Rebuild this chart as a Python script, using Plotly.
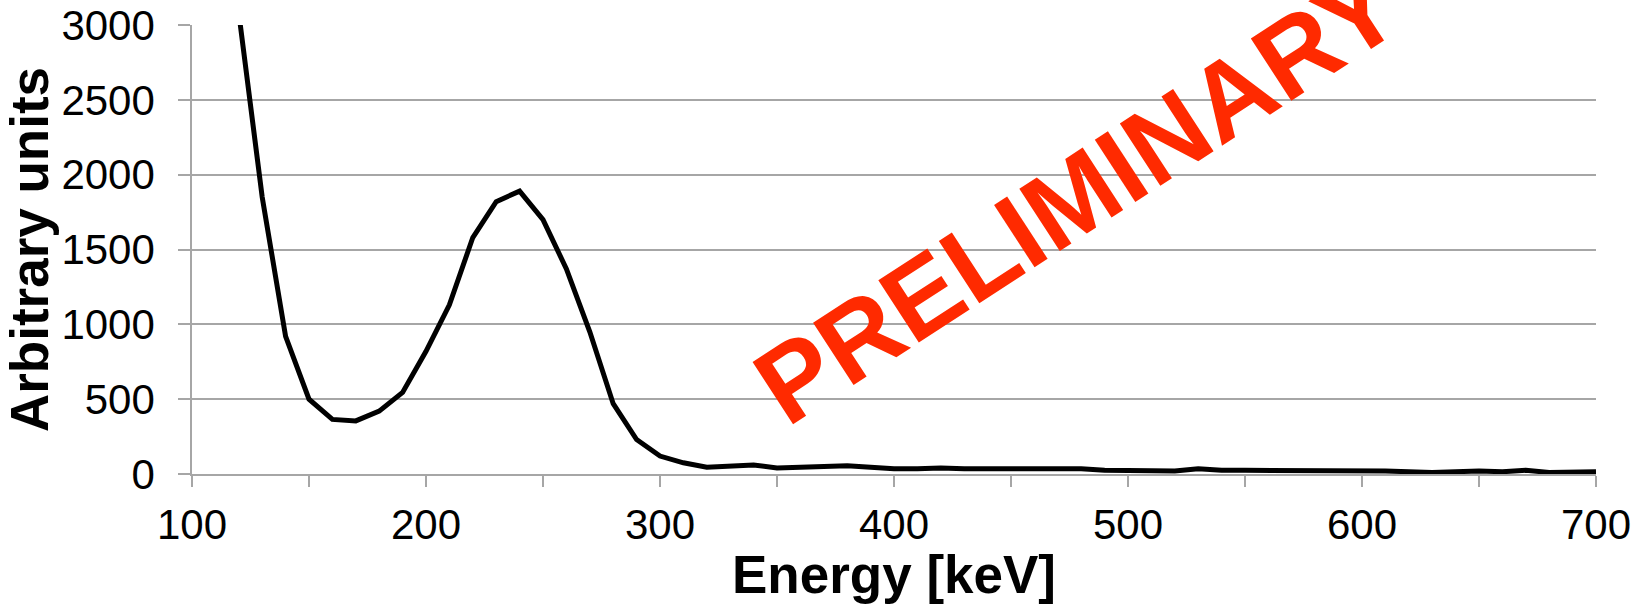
import plotly.graph_objects as go

energy_kev = [120, 130, 140, 150, 160, 170, 180, 190, 200, 210, 220, 230, 240, 250,
              260, 270, 280, 290, 300, 310, 320, 330, 340, 350, 360, 370, 380, 390,
              400, 410, 420, 430, 440, 450, 460, 470, 480, 490, 500, 510, 520, 530,
              540, 550, 560, 570, 580, 590, 600, 610, 620, 630, 640, 650, 660, 670,
              680, 690, 700]
counts = [3080, 1850, 920, 500, 365, 355, 420, 545, 820, 1130, 1580, 1820, 1890, 1700,
          1370, 950, 470, 230, 120, 75, 45, 55, 60, 40, 45, 55, 55, 45,
          35, 35, 40, 35, 35, 30, 35, 35, 35, 25, 25, 25, 20, 35,
          25, 25, 25, 20, 25, 20, 20, 20, 15, 10, 15, 20, 15, 25,
          10, 15, 15]

x_tickvals = [100, 150, 200, 250, 300, 350, 400, 450, 500, 550, 600, 650, 700]
x_ticktext = ["100", "", "200", "", "300", "", "400", "", "500", "", "600", "", "700"]
y_tickvals = [0, 500, 1000, 1500, 2000, 2500, 3000]

FONT = "Liberation Sans, Arial, sans-serif"
GRID = "#A6A6A6"

fig = go.Figure()
fig.add_trace(go.Scatter(x=energy_kev, y=counts, mode="lines",
                         line=dict(color="black", width=5), cliponaxis=True,
                         showlegend=False))

fig.update_layout(
    width=1635, height=604,
    margin=dict(l=192, r=39, t=25, b=130, autoexpand=False),
    paper_bgcolor="white", plot_bgcolor="white",
    font=dict(family=FONT, color="black"),
    xaxis=dict(range=[100, 700], tickmode="array", tickvals=x_tickvals, ticktext=x_ticktext,
               showgrid=False, zeroline=False, showline=True, linecolor=GRID, linewidth=1.5,
               ticks="outside", ticklen=11, tickwidth=1.5, tickcolor=GRID,
               tickfont=dict(size=42, family=FONT, color="black"),
               ticklabelstandoff=2, automargin=False,
               title=dict(text="<b>Energy [keV]</b>", font=dict(size=53, family=FONT, color="black"),
                          standoff=0)),
    yaxis=dict(range=[0, 3000], tickmode="array", tickvals=y_tickvals,
               showgrid=True, gridcolor=GRID, gridwidth=1.5, zeroline=False,
               showline=True, linecolor=GRID, linewidth=1.5,
               ticks="outside", ticklen=12, tickwidth=1.5, tickcolor=GRID,
               tickfont=dict(size=42, family=FONT, color="black"),
               ticklabelstandoff=15, automargin=False,
               title=dict(text="<b>Arbitrary units</b>", font=dict(size=53, family=FONT, color="black"),
                          standoff=0)),
)

fig.add_annotation(text="<b>PRELIMINARY</b>", xref="paper", yref="paper",
                   x=0.63, y=0.62, showarrow=False, textangle=-33,
                   font=dict(size=108, family=FONT, color="#FF2A00"))

fig.write_html("out.html", config={"displayModeBar": False},
               post_script="document.body.style.margin='0';document.body.style.overflow='hidden';")
